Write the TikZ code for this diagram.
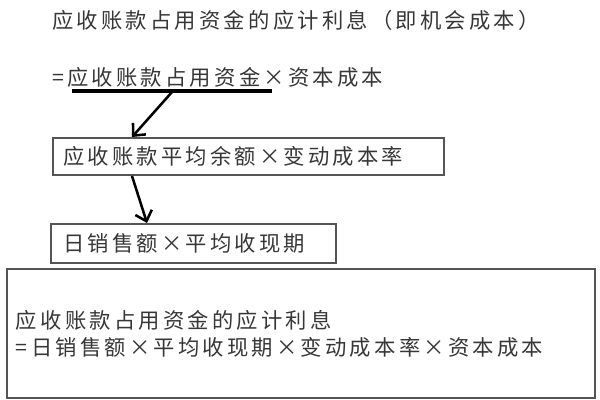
\documentclass[tikz,border=0pt]{standalone}
\usepackage{fontspec}
\newfontfamily\cjkfont[LetterSpace=15]{Noto Sans CJK SC}
\usetikzlibrary{arrows.meta}

\definecolor{textGray}{RGB}{55,55,55}
\definecolor{boxGray}{RGB}{85,85,85}

\tikzset{
    formulaText/.style = {anchor = west, inner sep = 0pt, text = textGray,
        font = \cjkfont\fontsize{16pt}{20.25pt}\selectfont},
    formulaBox/.style = {formulaText, draw = boxGray, line width = 1.5pt,
        anchor = north west, align = left, inner ysep = 0pt},
    flowArrow/.style = {line width = 1.9pt,
        -{Straight Barb[length = 7pt, width = 13pt, line width = 1.9pt]}},
}

\begin{document}
\begin{tikzpicture}[x = 0.75pt, y = -0.75pt]

    \fill [white] (0,0) rectangle (600,400);
    \useasboundingbox (0,0) rectangle (600,400);

    %% Drawing the two heading lines
    \node [formulaText] (interestTitle) at (52,20)
    {应收账款占用资金的应计利息（即机会成本）};

    \node [formulaText] (costFormula) at (52,77)
    {=应收账款占用资金×资本成本};

    \draw [line width = 2.3pt]
    (costFormula.west)
    ++(20,14)
    coordinate (underlineStart)
    -- ++(200,0)
    coordinate (underlineEnd)
    ;

    %% Drawing the boxes
    \node [formulaBox, minimum width = 293.25pt, minimum height = 27.75pt,
        text width = 278.25pt, inner xsep = 7.5pt] (rateBox) at (52,137)
    {应收账款平均余额×变动成本率};

    \node [formulaBox, minimum width = 213.75pt, minimum height = 29.25pt,
        text width = 195.75pt, inner xsep = 9pt] (periodBox) at (50,223)
    {日销售额×平均收现期};

    \node [formulaBox, minimum width = 441pt, minimum height = 96.75pt,
        text width = 427.5pt, inner xsep = 6.75pt] (resultBox) at (6,268)
    {应收账款占用资金的应计利息\\=日销售额×平均收现期×变动成本率×资本成本};

    %% Drawing the arrows between them
    \draw
    (rateBox.north west)
    ++(80,0)
    coordinate (rateTop)
    (rateBox.south west)
    ++(80,0)
    coordinate (rateBottom)
    (periodBox.north west)
    ++(97,0)
    coordinate (periodTop)
    ;

    \draw [flowArrow]
    (underlineStart)
    ++(100,1)
    coordinate (underlineArrow)
    -- (rateTop)
    ;

    \draw [flowArrow] (rateBottom) -- (periodTop);

\end{tikzpicture}
\end{document}
